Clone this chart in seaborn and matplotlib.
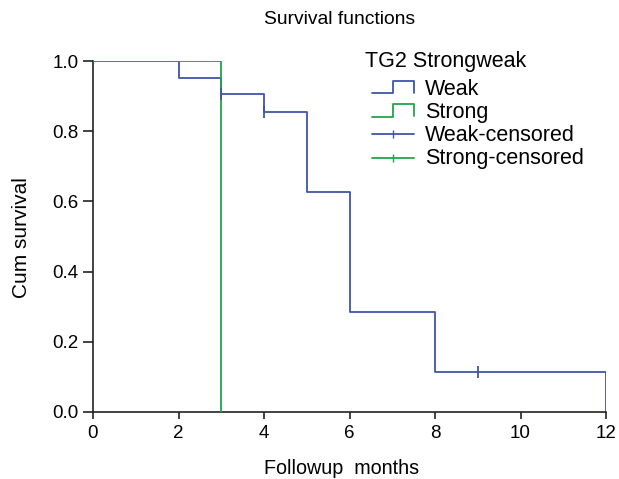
import matplotlib
matplotlib.use("Agg")
import matplotlib.pyplot as plt
import seaborn as sns
import pandas as pd
from matplotlib.lines import Line2D
from matplotlib.legend_handler import HandlerBase

# ---- data ----
weak_times = [0, 2, 3, 4, 5, 6, 8, 12]
weak_surv = [1.0, 0.952, 0.905, 0.855, 0.627, 0.285, 0.114, 0.0]
strong_times = [0, 3]
strong_surv = [1.0, 0.0]
weak_cens_times = [3, 4, 9]
weak_cens_surv = [0.905, 0.855, 0.114]
x_ticks = [0, 2, 4, 6, 8, 10, 12]
y_ticks = [0.0, 0.2, 0.4, 0.6, 0.8, 1.0]
legend_title = "TG2 Strongweak"
legend_labels = ["Weak", "Strong", "Weak-censored", "Strong-censored"]

BLUE = "#3f56a6"
GREEN = "#1ea64a"

sns.set_style("ticks")
plt.rcParams["font.family"] = ["Liberation Sans", "DejaVu Sans"]
plt.rcParams["text.color"] = "black"
plt.rcParams["axes.labelcolor"] = "black"

fig = plt.figure(figsize=(6.19, 4.79), dpi=100)
ax = fig.add_axes([93 / 619, 1 - 412 / 479, (606 - 93) / 619, (412 - 61) / 479])

df_w = pd.DataFrame({"t": weak_times, "s": weak_surv})
df_s = pd.DataFrame({"t": strong_times, "s": strong_surv})
sns.lineplot(data=df_w, x="t", y="s", ax=ax, color=BLUE, lw=1.3,
             drawstyle="steps-post", estimator=None, sort=False, zorder=2)
sns.lineplot(data=df_s, x="t", y="s", ax=ax, color=GREEN, lw=1.3,
             drawstyle="steps-post", estimator=None, sort=False, zorder=3)
df_c = pd.DataFrame({"t": weak_cens_times, "s": weak_cens_surv})
sns.scatterplot(data=df_c, x="t", y="s", ax=ax, marker="|", color=BLUE,
                s=70, linewidth=1.3, zorder=4)

ax.set_xlim(0, 12)
ax.set_ylim(0, 1)
ax.set_xticks(x_ticks)
ax.set_xticklabels([str(v) for v in x_ticks])
ax.set_yticks(y_ticks)
ax.set_yticklabels([f"{v:.1f}" for v in y_ticks])
ax.tick_params(axis="both", labelsize=13.5, width=1.2, color="#222222",
               labelcolor="black", direction="out")
ax.tick_params(axis="y", length=7, pad=3.6)
ax.tick_params(axis="x", length=5, pad=4.5)
for sp in ["top", "right"]:
    ax.spines[sp].set_visible(False)
for sp in ["left", "bottom"]:
    ax.spines[sp].set_linewidth(1.2)
    ax.spines[sp].set_color("#222222")
ax.set_xlabel("Followup  months", fontsize=14.2)
ax.xaxis.set_label_coords((342 - 93) / 513, -(468 - 412) / 351)
ax.xaxis.label.set_va("center")
ax.set_ylabel("Cum survival", fontsize=15)
ax.yaxis.set_label_coords(-(93 - 22) / 513, (412 - 238) / 351)
ax.yaxis.label.set_va("center")
fig.text(340 / 619, 1 - 20 / 479, "Survival functions", ha="center",
         va="center", fontsize=13.9)
fig.text(365 / 619, 1 - 61 / 479, legend_title, ha="left",
         va="center", fontsize=15.5)


class StepHandler(HandlerBase):
    def create_artists(self, legend, orig_handle, xdescent, ydescent,
                       width, height, fontsize, trans):
        x0, x1 = -xdescent, -xdescent + width
        xm = x0 + width * 0.5
        yb = -ydescent
        yt = -ydescent + height
        xs = [x0, xm, xm, x1, x1]
        ys = [yb, yb, yt, yt, yb + height * 0.05]
        ln = Line2D(xs, ys, color=orig_handle.get_color(), lw=1.3,
                    transform=trans)
        return [ln]


h_weak = Line2D([], [], color=BLUE)
h_strong = Line2D([], [], color=GREEN)
h_wc = Line2D([0], [0], color=BLUE, lw=1.3, marker="|", markersize=6)
h_sc = Line2D([0], [0], color=GREEN, lw=1.3, marker="|", markersize=6)
leg = fig.legend([h_weak, h_strong, h_wc, h_sc], legend_labels,
                 loc="upper left", borderaxespad=0,
                 bbox_to_anchor=(372 / 619, 1 - 79 / 479), frameon=False,
                 fontsize=15.5, handlelength=1.95, handleheight=0.5,
                 handletextpad=0.5, labelspacing=0.1, borderpad=0.0,
                 handler_map={h_weak: StepHandler(), h_strong: StepHandler()})

fig.savefig("out.png", dpi=100)
